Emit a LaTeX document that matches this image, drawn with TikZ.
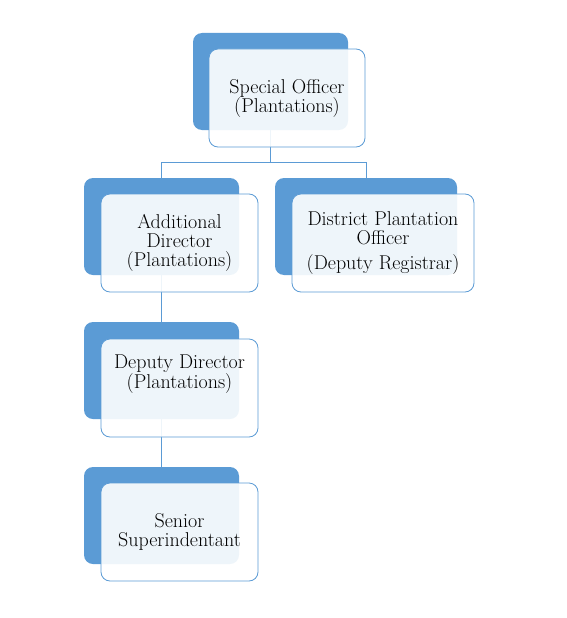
\documentclass[tikz,border=0pt]{standalone}
\usepackage{fontspec}
\definecolor{orgblue}{HTML}{5B9BD5}

\begin{document}
\begin{tikzpicture}[x=1pt, y=-1pt,
  backbox/.style={fill=orgblue, rounded corners=9pt, minimum height=97pt, inner sep=0pt},
  frontbox/.style={draw=orgblue, line width=0.8pt, fill=white, fill opacity=0.9, text opacity=1, rounded corners=9pt, minimum height=98pt, inner sep=2pt, align=center, font=\fontsize{20}{19}\selectfont},
  link/.style={draw=orgblue, line width=0.8pt}]
\useasboundingbox (0,0) rectangle (566,618);
\node[backbox, minimum width=155pt] (b1) at (270.5,81.5) {};
\node[backbox, minimum width=155pt] (b2) at (161.5,226.5) {};
\node[backbox, minimum width=182pt] (b3) at (366,226.5) {};
\node[backbox, minimum width=155pt] (b4) at (161.5,370.5) {};
\node[backbox, minimum width=155pt] (b5) at (161.5,515.5) {};
\coordinate (fork) at (270.5,162);
\draw[link] (b1.south) -- (fork);
\draw[link] (fork) -| (b2.north);
\draw[link] (fork) -| (b3.north);
\draw[link] (b2.south) -- (b4.north);
\draw[link] (b4.south) -- (b5.north);
\node[frontbox, minimum width=156pt] (f1) at (287,98) {Special Officer\\(Plantations)};
\node[frontbox, minimum width=157pt] (f2) at (179.5,243) {Additional\\Director\\(Plantations)};
\node[frontbox, minimum width=182pt] (f3) at (383,243) {District Plantation\\Officer\\[6pt](Deputy Registrar)};
\node[frontbox, minimum width=157pt, text depth=33pt] (f4) at (179.5,388) {Deputy Director\\(Plantations)};
\node[frontbox, minimum width=157pt] (f5) at (179.5,532) {Senior\\Superindentant};
\end{tikzpicture}
\end{document}
